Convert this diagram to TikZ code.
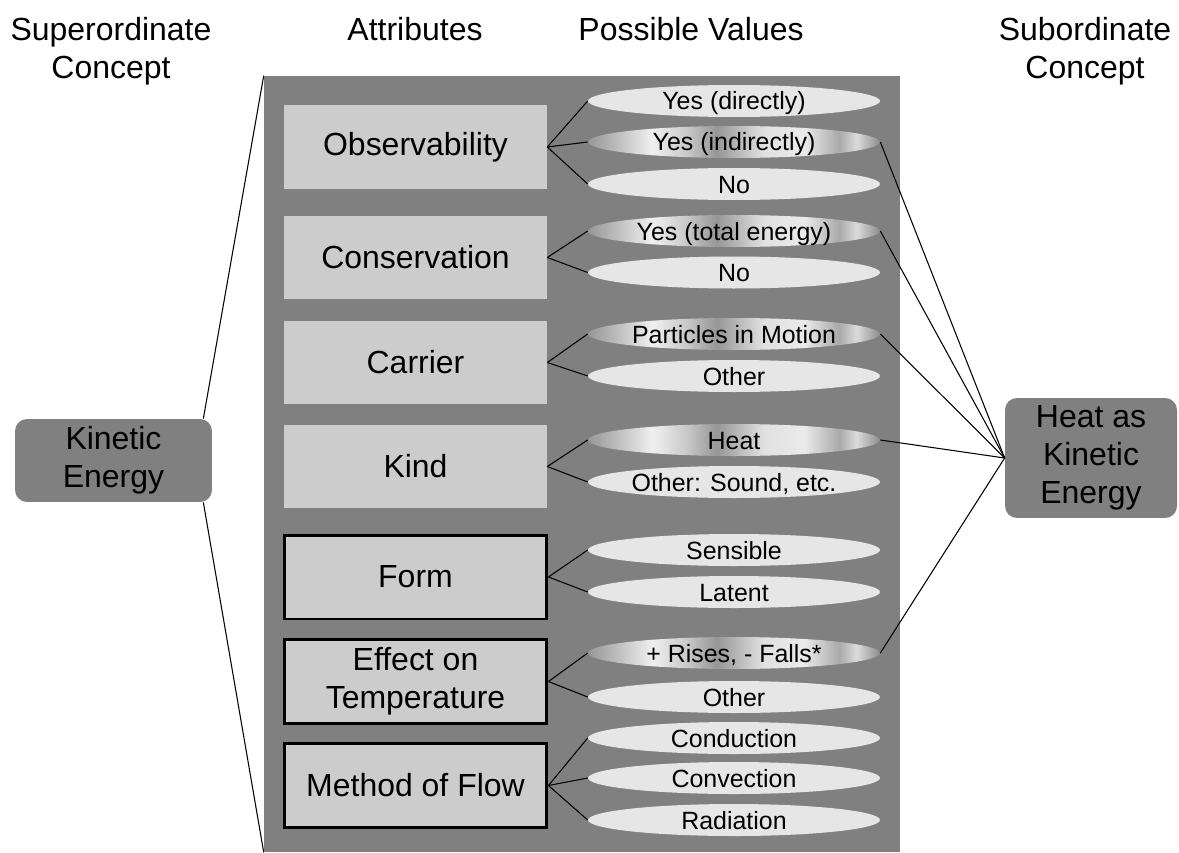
\documentclass[tikz,border=0pt]{standalone}
\usepackage{fontspec}
\setmainfont{Liberation Sans}
\usetikzlibrary{shapes.geometric}
\definecolor{panelgray}{RGB}{128,128,128}
\definecolor{attrgray}{RGB}{204,204,204}
\definecolor{valgray}{RGB}{230,230,230}
% metallic look of the chosen values
\pgfdeclarehorizontalshading{metal}{100bp}{%
  color(0bp)=(gray!82); color(25bp)=(gray!82); color(30bp)=(gray!51);
  color(36bp)=(gray!12); color(42bp)=(gray!43); color(47bp)=(gray!82);
  color(55bp)=(gray!24); color(62bp)=(gray!16); color(68bp)=(gray!67);
  color(71bp)=(gray!28); color(75bp)=(gray!90); color(100bp)=(gray!90)}

\begin{document}
\begin{tikzpicture}[x=0.02cm,y=-0.02cm,
  head/.style={font=\fontsize{18.2pt}{21.6pt}\selectfont,align=center,
               inner sep=0pt,anchor=north},
  concept/.style={fill=panelgray,rounded corners=6.8pt,align=center,inner sep=0pt,
                  font=\fontsize{18.2pt}{21.6pt}\selectfont},
  attr/.style={fill=attrgray,minimum width=5.26cm,minimum height=1.68cm,
               font=\fontsize{18.2pt}{21.6pt}\selectfont,align=center,inner sep=0pt},
  attrbold/.style={attr,draw=black,line width=1.7pt},
  valbase/.style={ellipse,minimum width=5.84cm,minimum height=0.64cm,inner sep=0pt,
                  text height=0.36cm,text depth=0pt,font=\fontsize{14.2pt}{17pt}\selectfont},
  val/.style={valbase,fill=valgray},
  chosen/.style={valbase,shading=metal},
  link/.style={draw=black,line width=0.6pt}
]
\useasboundingbox (0,0) rectangle (1179,852);

% column headings
\node[head] (tsup)  at (111,17)  {Superordinate\\Concept};
\node[head] (tattr) at (415,17)  {Attributes};
\node[head] (tval)  at (691,17)  {Possible Values};
\node[head] (tsub)  at (1085,17) {Subordinate\\Concept};

% gray panel
\node[fill=panelgray,minimum width=12.72cm,minimum height=15.52cm,inner sep=0pt]
  (panel) at (582,464) {};

% concepts
\node[concept,minimum width=3.94cm,minimum height=1.66cm] (ke)   at (113.5,460.5) {Kinetic\\Energy};
\node[concept,minimum width=3.44cm,minimum height=2.4cm]  (heat) at (1091,458)    {Heat as\\Kinetic\\Energy};

% attributes
\node[attr]     (obs)  at (415.5,147)   {Observability};
\node[attr]     (cons) at (415.5,257.5) {Conservation};
\node[attr]     (car)  at (415.5,362.5) {Carrier};
\node[attr]     (kind) at (415.5,466.5) {Kind};
\node[attrbold] (form) at (415.5,577)   {Form};
\node[attrbold] (eff)  at (415.5,681.5) {Effect on\\Temperature};
\node[attrbold] (flow) at (415.5,785.5) {Method of Flow};

% possible values
\node[val]    (obs1)  at (734,101)   {Yes (directly)};
\node[chosen] (obs2)  at (734,142)   {Yes (indirectly)};
\node[val]    (obs3)  at (734,184)   {No};
\node[chosen] (cons1) at (734,231)   {Yes (total energy)};
\node[val]    (cons2) at (734,272.5) {No};
\node[chosen] (car1)  at (734,334)   {Particles in Motion};
\node[val]    (car2)  at (734,376)   {Other};
\node[chosen] (kind1) at (734,440)   {Heat};
\node[val]    (kind2) at (734,482)   {Other: Sound, etc.};
\node[val]    (form1) at (734,550)   {Sensible};
\node[val]    (form2) at (734,592)   {Latent};
\node[chosen] (eff1)  at (734,653)   {+ Rises, - Falls*};
\node[val]    (eff2)  at (734,697)   {Other};
\node[val]    (flow1) at (734,738)   {Conduction};
\node[val]    (flow2) at (734,778)   {Convection};
\node[val]    (flow3) at (734,820)   {Radiation};

% attribute -> values
\draw[link] (obs.east) -- (obs1.west);
\draw[link] (obs.east) -- (obs2.west);
\draw[link] (obs.east) -- (obs3.west);
\draw[link] (cons.east) -- (cons1.west);
\draw[link] (cons.east) -- (cons2.west);
\draw[link] (car.east) -- (car1.west);
\draw[link] (car.east) -- (car2.west);
\draw[link] (kind.east) -- (kind1.west);
\draw[link] (kind.east) -- (kind2.west);
\draw[link] (form.east) -- (form1.west);
\draw[link] (form.east) -- (form2.west);
\draw[link] (eff.east) -- (eff1.west);
\draw[link] (eff.east) -- (eff2.west);
\draw[link] (flow.east) -- (flow1.west);
\draw[link] (flow.east) -- (flow2.west);
\draw[link] (flow.east) -- (flow3.west);

% superordinate concept spans the panel
\draw[link] ([xshift=-0.18cm]ke.north east) -- (panel.north west);
\draw[link] ([xshift=-0.18cm]ke.south east) -- (panel.south west);

% chosen values -> subordinate concept
\draw[link] (obs2.east)  -- (heat.west);
\draw[link] (cons1.east) -- (heat.west);
\draw[link] (car1.east)  -- (heat.west);
\draw[link] (kind1.east) -- (heat.west);
\draw[link] (eff1.east)  -- (heat.west);

\end{tikzpicture}
\end{document}
